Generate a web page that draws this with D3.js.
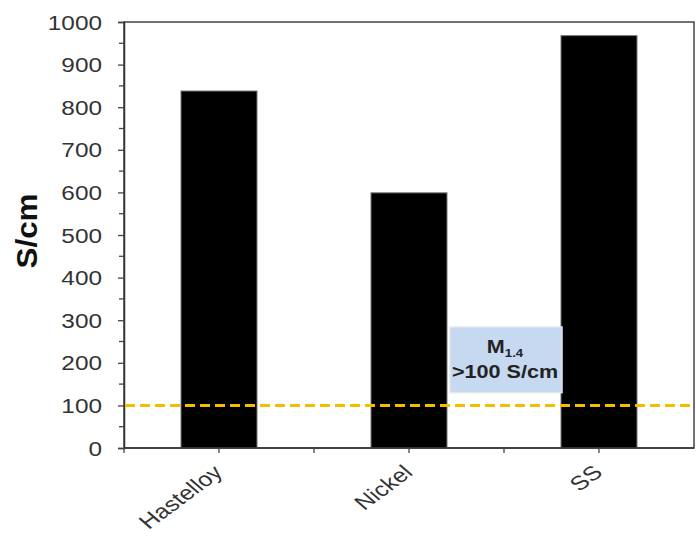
<!DOCTYPE html>
<html>
<head>
<meta charset="utf-8">
<script src="https://cdn.jsdelivr.net/npm/d3@7/dist/d3.min.js"></script>
<style>
  html, body { margin: 0; padding: 0; background: #fff; }
  svg { display: block; font-family: Arial, "Liberation Sans", sans-serif; }
</style>
</head>
<body>
<svg id="chart" width="696" height="539"></svg>
<script>
// Electrical conductivity of each substrate
const categories = ["Hastelloy", "Nickel", "SS"];
const conductivity = [838, 599, 968];
const yTicks = [0, 100, 200, 300, 400, 500, 600, 700, 800, 900, 1000];
const thresholdValue = 100;
const noteMain = "M";
const noteSub = "1.4";
const noteLine2 = ">100 S/cm";

const svg = d3.select("#chart");
const margin = { left: 124, right: 2, top: 22, bottom: 91 };
const W = 696, H = 539;
const x0 = margin.left, x1 = W - margin.right;
const y0 = H - margin.bottom, y1 = margin.top;
const wide = 1.25; // glyphs are drawn horizontally widened

const x = d3.scaleBand().domain(categories).range([x0, x1]).paddingInner(0).paddingOuter(0);
const y = d3.scaleLinear().domain([0, 1000]).range([y0, y1]);

// frame
svg.append("rect")
  .attr("x", x0).attr("y", y1)
  .attr("width", x1 - x0).attr("height", y0 - y1)
  .attr("fill", "none").attr("stroke", "#444").attr("stroke-width", 1.5);

// bars
const barW = x.bandwidth() * 0.4;
svg.append("g").selectAll("rect")
  .data(categories)
  .join("rect")
  .attr("x", (d) => x(d) + (x.bandwidth() - barW) / 2)
  .attr("y", (d, i) => y(conductivity[i]))
  .attr("width", barW)
  .attr("height", (d, i) => y(0) - y(conductivity[i]))
  .attr("fill", "#000")
  .attr("stroke", "#777").attr("stroke-width", 1);

// y axis with minor ticks every 50
const yAxis = d3.axisLeft(y).tickValues(yTicks).tickFormat(d3.format("d")).tickSize(6);
const gy = svg.append("g").attr("transform", `translate(${x0},0)`).call(yAxis);
gy.attr("font-size", null).attr("font-family", null);
gy.select(".domain").attr("stroke", "#333").attr("stroke-width", 1.5);
gy.selectAll(".tick line").attr("stroke", "#444").attr("stroke-width", 1.3);
gy.selectAll(".tick text")
  .attr("font-size", 19.5).attr("fill", "#333")
  .attr("x", -22 / wide).attr("dy", "0.36em")
  .attr("transform", `scale(${wide},1)`);
const minor = d3.range(50, 1000, 100);
svg.append("g").selectAll("line").data(minor).join("line")
  .attr("x1", x0 - 5).attr("x2", x0)
  .attr("y1", (d) => y(d)).attr("y2", (d) => y(d))
  .attr("stroke", "#444").attr("stroke-width", 1.3);

// x axis: ticks at band edges and centres
const xTickPos = [];
categories.forEach((c) => { xTickPos.push(x(c)); xTickPos.push(x(c) + x.bandwidth() / 2); });
svg.append("line").attr("x1", x0).attr("x2", x1).attr("y1", y0).attr("y2", y0)
  .attr("stroke", "#333").attr("stroke-width", 1.5);
svg.append("g").selectAll("line").data(xTickPos).join("line")
  .attr("x1", (d) => d).attr("x2", (d) => d)
  .attr("y1", y0).attr("y2", y0 + 5)
  .attr("stroke", "#444").attr("stroke-width", 1.3);

svg.append("g").selectAll("text").data(categories).join("text")
  .attr("transform", (d) =>
    `translate(${x(d) + x.bandwidth() / 2 + 5},${y0 + 26}) scale(${wide},1) rotate(-43)`)
  .attr("text-anchor", "end")
  .attr("font-size", 20).attr("fill", "#333")
  .text((d) => d);

// y label
svg.append("text")
  .attr("transform", `translate(37,231) scale(1.2,1) rotate(-90)`)
  .attr("text-anchor", "middle")
  .attr("font-size", 25).attr("font-weight", "bold").attr("fill", "#111")
  .attr("textLength", 75).attr("lengthAdjust", "spacingAndGlyphs")
  .text("S/cm");

// threshold note box
const noteG = svg.append("g");
noteG.append("rect")
  .attr("x", 450).attr("y", y(284))
  .attr("width", 112).attr("height", y(130) - y(284))
  .attr("fill", "#c6d9f0").attr("stroke", "#e1e7ef").attr("stroke-width", 1.5);
const t1 = noteG.append("text")
  .attr("transform", `translate(505,${y(224)}) scale(1.2,1)`)
  .attr("text-anchor", "middle")
  .attr("font-size", 18).attr("font-weight", "bold").attr("fill", "#222");
t1.append("tspan").text(noteMain);
t1.append("tspan").attr("font-size", 11).attr("dy", 4).text(noteSub);
noteG.append("text")
  .attr("transform", `translate(505,${y(164)}) scale(1.2,1)`)
  .attr("text-anchor", "middle")
  .attr("font-size", 18).attr("font-weight", "bold").attr("fill", "#222")
  .text(noteLine2);

// threshold line
svg.append("line")
  .attr("x1", x0 + 1).attr("x2", x1)
  .attr("y1", y(thresholdValue)).attr("y2", y(thresholdValue))
  .attr("stroke", "#f5bd00").attr("stroke-width", 3)
  .attr("stroke-dasharray", "10,5");
</script>
</body>
</html>
